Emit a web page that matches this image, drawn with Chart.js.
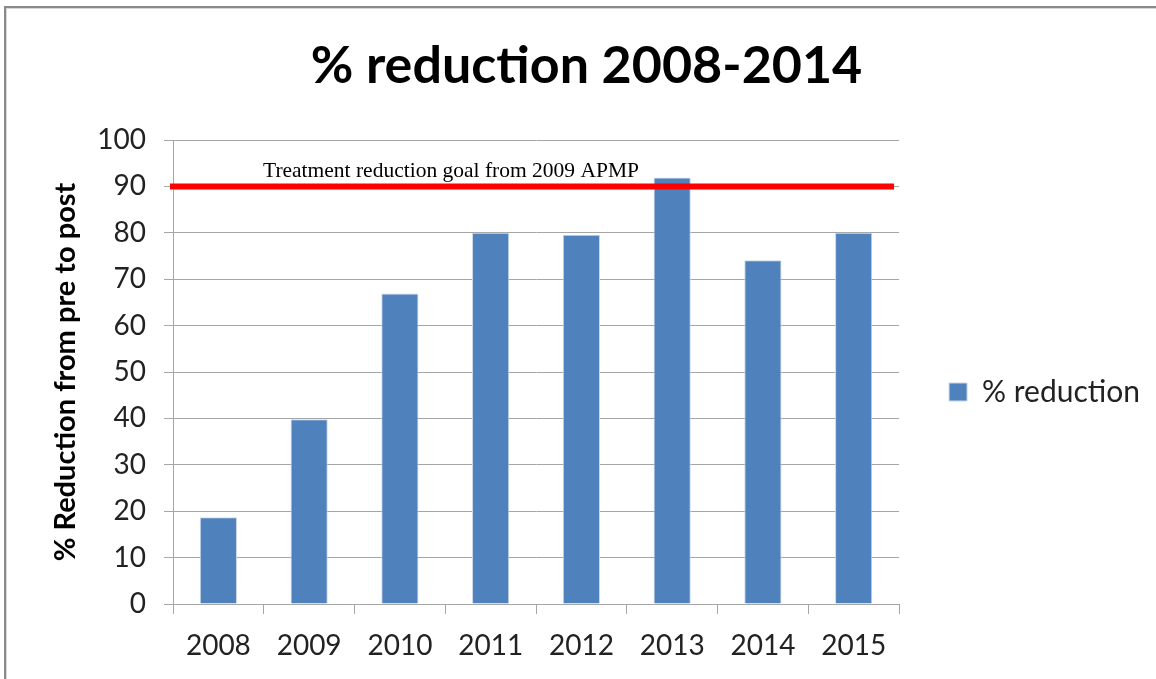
<!DOCTYPE html>
<html>
<head>
<meta charset="utf-8">
<title>% reduction 2008-2014</title>
<script src="https://cdn.jsdelivr.net/npm/chart.js@4.4.1/dist/chart.umd.min.js"></script>
<style>
    html, body { margin: 0; padding: 0; background: #fff; overflow: hidden; }
    #frame {
        position: absolute; left: 4px; top: 6px;
        width: 1200px; height: 720px;
        border-left: 2px solid #8a8a8a; border-top: 2px solid #8a8a8a;
        box-shadow: inset 1px 1px 0 #d6d6d6;
    }
    #chart { position: absolute; left: 0; top: 0; }
</style>
</head>
<body>
<div id="frame"></div>
<canvas id="chart" width="1156" height="679"></canvas>
<script>
    const years=["2008","2009","2010","2011","2012","2013","2014","2015"];
    const reduction=[18.7, 39.8, 66.9, 80, 79.6, 91.9, 74.1, 80];
    const yTicks=[0, 10, 20, 30, 40, 50, 60, 70, 80, 90, 100];
    const goal=90;
    const goalText="Treatment reduction goal from 2009 APMP";

    const sans="Lato, 'Liberation Sans', sans-serif";
    const gridGray="#a6a6a6";

    // red goal line with its caption, drawn above the bars
    const goalLine={
        id: "goalLine",
        afterDatasetsDraw(chart) {
            const {ctx, chartArea, scales}=chart;
            const y=scales.y.getPixelForValue(goal);
            ctx.save();
            ctx.strokeStyle="#ff0000";
            ctx.lineWidth=6;
            ctx.beginPath();
            ctx.moveTo(chartArea.left-3, y);
            ctx.lineTo(chartArea.right-5, y);
            ctx.stroke();
            ctx.fillStyle="#000";
            ctx.font="21.5px 'Liberation Serif', 'Times New Roman', serif";
            ctx.textAlign="left";
            ctx.textBaseline="alphabetic";
            ctx.fillText(goalText, chartArea.left+90, y-9);
            ctx.restore();
        },
    };

    const ctx=document.getElementById("chart").getContext("2d");
    const chart=new Chart(ctx,{
        type: "bar",
        data: {
            labels: years,
            datasets: [{
                label: "% reduction",
                data: reduction,
                backgroundColor: "#4f81bd",
                borderColor: "#c9d6e8",
                borderWidth: 1,
                barPercentage: 0.41,
                categoryPercentage: 1,
            }],
        },
        options: {
            responsive: false,
            animation: false,
            devicePixelRatio: 1,
            layout: {
                padding: {left: 23, top: 0, right: 6, bottom: 15},
            },
            plugins: {
                title: {
                    display: true,
                    text: "% reduction 2008-2014",
                    color: "#000",
                    font: {family: sans, size: 52, weight: "bold", lineHeight: 1.2},
                    padding: {top: 35, bottom: 42.6},
                },
                legend: {
                    position: "right",
                    // empty legend title only pushes the entry down to mid-height
                    title: {
                        display: true,
                        text: " ",
                        font: {size: 10, lineHeight: 1.2},
                        padding: {top: 0, bottom: 108},
                    },
                    labels: {
                        color: "#222",
                        font: {family: sans, size: 30},
                        boxWidth: 18,
                        boxHeight: 18,
                        padding: 50,
                    },
                },
                tooltip: {enabled: false},
            },
            scales: {
                x: {
                    afterFit(scale) {
                        scale.height=60;
                    },
                    grid: {
                        drawOnChartArea: false,
                        offset: true,
                        color: gridGray,
                        tickLength: 10,
                    },
                    border: {color: gridGray},
                    ticks: {
                        color: "#222",
                        font: {family: sans, size: 28},
                        padding: 15,
                    },
                },
                y: {
                    min: 0,
                    max: 100,
                    afterFit(scale) {
                        scale.width=150;
                    },
                    afterBuildTicks(scale) {
                        scale.ticks=yTicks.map(v => ({value: v}));
                    },
                    grid: {
                        color: gridGray,
                        tickLength: 9,
                    },
                    border: {color: gridGray},
                    ticks: {
                        color: "#222",
                        font: {family: sans, size: 28},
                        padding: 18,
                    },
                    title: {
                        display: true,
                        text: "% Reduction from pre to post",
                        color: "#000",
                        font: {family: sans, size: 29, weight: "bold", lineHeight: 1.2},
                        padding: {top: 25, bottom: 0},
                    },
                },
            },
        },
        plugins: [goalLine],
    });
</script>
</body>
</html>
